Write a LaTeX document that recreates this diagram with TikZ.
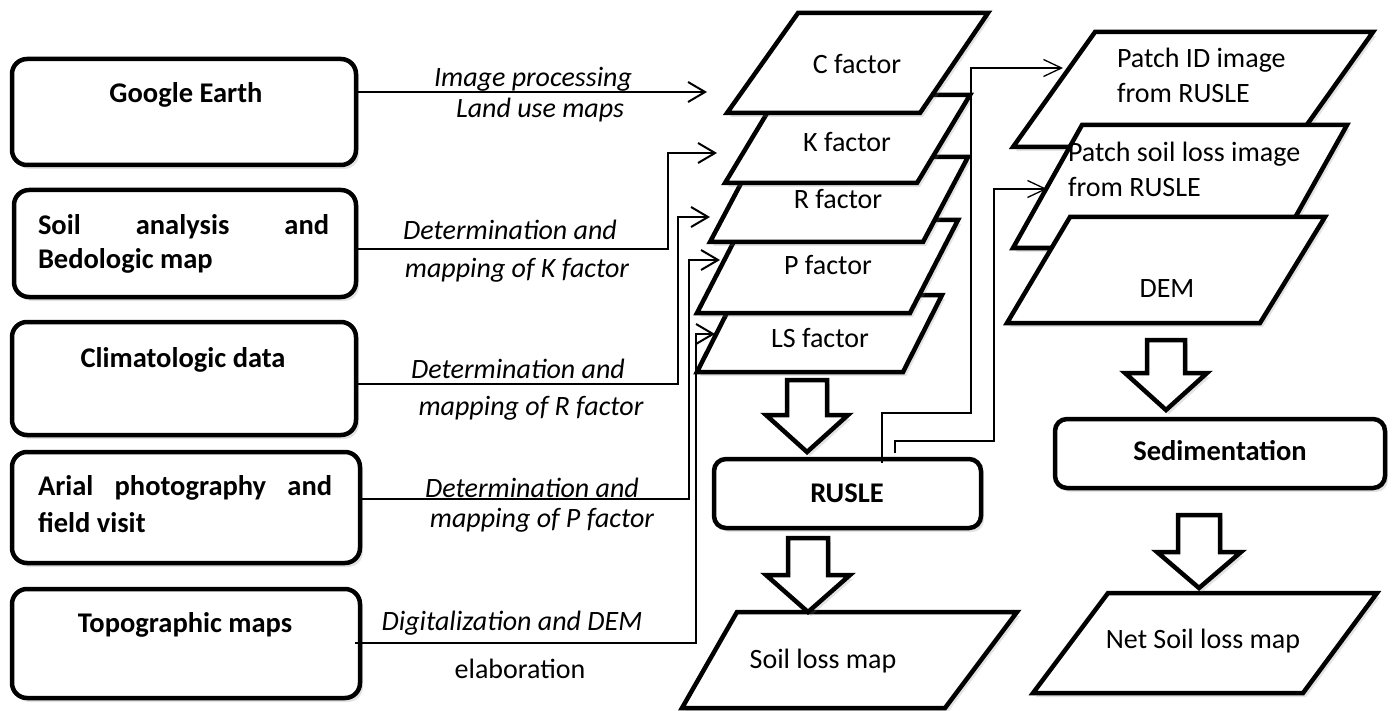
\documentclass[tikz,border=0pt]{standalone}
\usepackage{fontspec}
\setmainfont{Carlito}
\usetikzlibrary{arrows.meta,shadows}
\newcommand\mydownarrow[6]{%
  \draw[bigarrow] (#1-#5,#2) -- (#1+#5,#2) -- (#1+#5,#3) -- (#1+#6,#3) -- (#1,#4) -- (#1-#6,#3) -- (#1-#5,#3) -- cycle;}
\begin{document}
\begin{tikzpicture}[x=1pt,y=-1pt,
  every node/.style={inner sep=0pt, outer sep=0pt, font=\fontsize{28}{34}\selectfont},
  shadowed/.style={drop shadow={opacity=0.22, shadow xshift=3pt, shadow yshift=-4pt}},
  srcbox/.style={draw, line width=4.5pt, rounded corners=15pt, fill=white, shadowed},
  procbox/.style={draw, line width=4.5pt, rounded corners=12pt, fill=white, shadowed},
  para/.style={draw, line width=4.5pt, fill=white, line join=miter, shadowed},
  bigarrow/.style={draw, line width=4.5pt, fill=white, line join=miter, shadowed},
  conn/.style={line width=2pt, -{Straight Barb[length=17pt,width=20pt]}},
  link/.style={line width=1.3pt, -{Straight Barb[length=18pt,width=17pt]}},
  lbl/.style={font=\fontsize{28}{34}\selectfont\itshape, anchor=base},
  uplbl/.style={font=\fontsize{28}{34}\selectfont, anchor=base},
  btxt/.style={font=\fontsize{28.5}{34}\selectfont\bfseries, anchor=base},
  btxtl/.style={font=\fontsize{28.5}{34}\selectfont\bfseries, anchor=base west},
  ptxt/.style={font=\fontsize{28}{34}\selectfont, anchor=base},
  ptxtl/.style={font=\fontsize{28}{34}\selectfont, anchor=base west},
]
\useasboundingbox (0,0) rectangle (1396,711);

% ---------- left source boxes ----------
\node[srcbox, minimum width=344pt, minimum height=106pt] (GE) at (184,112) {};
\node[btxt] (GEt) at (186,103) {Google Earth};

\node[srcbox, minimum width=342pt, minimum height=107pt] (Soil) at (185,243.5) {};
\node[btxtl] (Soilt1) at (38,235) {\makebox[291pt][s]{Soil analysis and}};
\node[btxtl] (Soilt2) at (38,268) {Bedologic map};

\node[srcbox, minimum width=344pt, minimum height=113pt] (Clim) at (184,378.5) {};
\node[btxt] (Climt) at (183,367) {Climatologic data};

\node[srcbox, minimum width=348pt, minimum height=111pt] (Arial) at (186,507.5) {};
\node[btxtl] (Arialt1) at (38,495) {\makebox[294pt][s]{Arial photography and}};
\node[btxtl] (Arialt2) at (38,532) {field visit};

\node[srcbox, minimum width=348pt, minimum height=109pt] (Topo) at (186,643.5) {};
\node[btxt] (Topot) at (185,632) {Topographic maps};

% ---------- middle stack of factors ----------
\draw[para] (736,295) -- (942,295) -- (903,372) -- (697,372) -- cycle;
\node[ptxt] (LS) at (820,347) {LS factor};
\draw[para] (745,220) -- (958,220) -- (910,313) -- (697,313) -- cycle;
\node[ptxt] (P) at (828,274) {P factor};
\draw[para] (755,157) -- (968,157) -- (923,242) -- (710,242) -- cycle;
\node[ptxt] (R) at (838,209) {R factor};
\draw[para] (778,95) -- (970,95) -- (917,183) -- (725,183) -- cycle;
\node[ptxt] (K) at (847,152) {K factor};
\draw[para] (798,13) -- (988,13) -- (920,113) -- (727,113) -- cycle;
\node[ptxt] (C) at (857,74) {C factor};

% ---------- right stack ----------
\draw[para] (1095,32) -- (1373,32) -- (1291,147) -- (1013,147) -- cycle;
\node[ptxtl] (PID1) at (1117,68) {Patch ID image};
\node[ptxtl] (PID2) at (1117,103) {from RUSLE};
\draw[para] (1082,125) -- (1347,125) -- (1278,248) -- (1013,248) -- cycle;
\node[ptxtl] (PSL1) at (1068,162) {Patch soil loss image};
\node[ptxtl] (PSL2) at (1068,197) {from RUSLE};
\draw[para] (1070,217) -- (1325,217) -- (1260,323) -- (1007,323) -- cycle;
\node[ptxt] (DEM) at (1167,297) {DEM};

% ---------- processes ----------
\node[procbox, minimum width=267pt, minimum height=69pt] (RUSLE) at (847.5,493.5) {};
\node[btxt] (RUSLEt) at (847,502) {RUSLE};
\node[procbox, minimum width=330pt, minimum height=69pt] (Sed) at (1220,453.5) {};
\node[btxt] (Sedt) at (1220,460) {Sedimentation};

% ---------- outputs ----------
\draw[para] (737,612) -- (1017,612) -- (945,708) -- (682,708) -- cycle;
\node[ptxt] (SLM) at (823,668) {Soil loss map};
\draw[para] (1108,593) -- (1377,593) -- (1303,693) -- (1033,693) -- cycle;
\node[ptxt] (NSL) at (1203,648) {Net Soil loss map};

% ---------- block arrows ----------
\mydownarrow{807}{380}{415}{452}{20}{41}
\mydownarrow{808}{538}{575}{612}{20}{42}
\mydownarrow{1166}{340}{373}{410}{19}{41}
\mydownarrow{1199}{515}{552}{588}{21}{42}

% ---------- connectors ----------
\coordinate (tC) at (707,92);
\draw[conn] (GE.east |- tC) -- (tC);
\coordinate (bK) at (668,249); \coordinate (tK) at (717,153);
\draw[conn] (Soil.east |- bK) -- (bK) |- (tK);
\coordinate (bR) at (678,384); \coordinate (tR) at (710,217);
\draw[conn] (Clim.east |- bR) -- (bR) |- (tR);
\coordinate (bP) at (689,499); \coordinate (tP) at (720,260);
\draw[conn] (Arial.east |- bP) -- (bP) |- (tP);
\coordinate (bL) at (696,643); \coordinate (tL) at (715,334);
\draw[conn] ([xshift=-5pt]Topo.east |- bL) -- (bL) |- (tL);

\coordinate (u1) at (882,413); \coordinate (v1) at (971,68); \coordinate (w1) at (1063,68);
\draw[link] ([yshift=-4pt]RUSLE.north -| u1) -- (u1) -| (v1) -- (w1);
\coordinate (u2) at (895,441); \coordinate (v2) at (994,189); \coordinate (w2) at (1047,189);
\draw[link] ([yshift=6pt]RUSLE.north -| u2) -- (u2) -| (v2) -- (w2);

% ---------- connector labels ----------
\node[lbl] (l1a) at (533,87) {Image processing};
\node[lbl] (l1b) at (540,118) {Land use maps};
\node[lbl] (l2a) at (510,240) {Determination and};
\node[lbl] (l2b) at (517,277) {mapping of K factor};
\node[lbl] (l3a) at (518,378) {Determination and};
\node[lbl] (l3b) at (531,415) {mapping of R factor};
\node[lbl] (l4a) at (532,497) {Determination and};
\node[lbl] (l4b) at (542,527) {mapping of P factor};
\node[lbl] (l5a) at (512,630) {Digitalization and DEM};
\node[uplbl] (l5b) at (520,678) {elaboration};
\end{tikzpicture}
\end{document}
